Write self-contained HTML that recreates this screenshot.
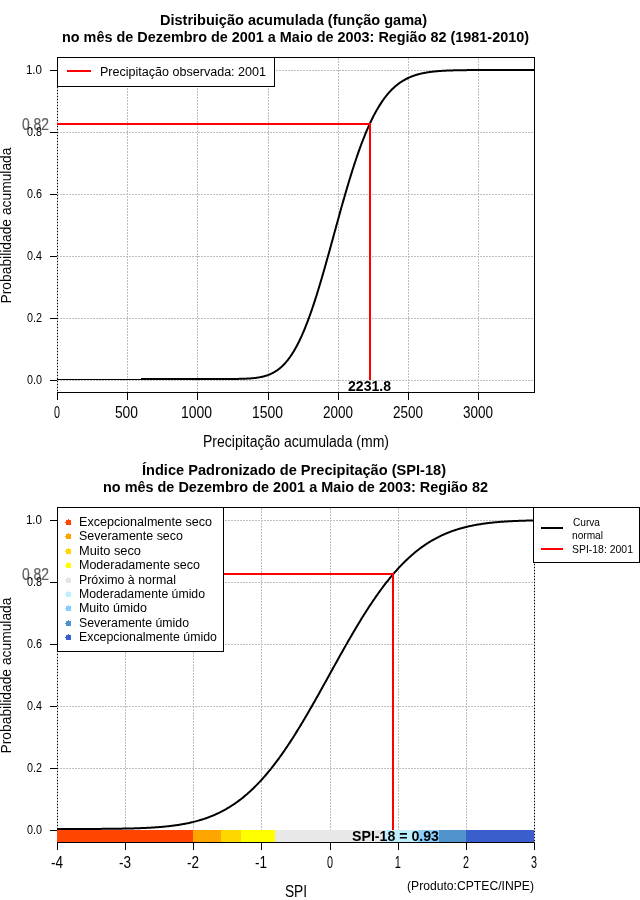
<!DOCTYPE html>
<html><head><meta charset="utf-8"><style>
html,body{margin:0;padding:0;width:640px;height:900px;overflow:hidden;background:#fff}
svg{position:absolute;left:0;top:0;will-change:transform}
svg text{font-family:"Liberation Sans", sans-serif}
</style></head><body>
<svg width="640" height="900" viewBox="0 0 640 900">
<rect width="640" height="900" fill="#fff"/>
<g shape-rendering="crispEdges" stroke-width="1">
<line x1="57.5" y1="58" x2="57.5" y2="392" stroke="#bebebe" stroke-dasharray="2 1"/>
<line x1="127.5" y1="58" x2="127.5" y2="392" stroke="#bebebe" stroke-dasharray="2 1"/>
<line x1="197.5" y1="58" x2="197.5" y2="392" stroke="#bebebe" stroke-dasharray="2 1"/>
<line x1="268.5" y1="58" x2="268.5" y2="392" stroke="#bebebe" stroke-dasharray="2 1"/>
<line x1="338.5" y1="58" x2="338.5" y2="392" stroke="#bebebe" stroke-dasharray="2 1"/>
<line x1="408.5" y1="58" x2="408.5" y2="392" stroke="#bebebe" stroke-dasharray="2 1"/>
<line x1="478.5" y1="58" x2="478.5" y2="392" stroke="#bebebe" stroke-dasharray="2 1"/>
<line x1="57" y1="70.5" x2="534" y2="70.5" stroke="#bebebe" stroke-dasharray="2 1"/>
<line x1="57" y1="132.5" x2="534" y2="132.5" stroke="#bebebe" stroke-dasharray="2 1"/>
<line x1="57" y1="194.5" x2="534" y2="194.5" stroke="#bebebe" stroke-dasharray="2 1"/>
<line x1="57" y1="256.5" x2="534" y2="256.5" stroke="#bebebe" stroke-dasharray="2 1"/>
<line x1="57" y1="318.5" x2="534" y2="318.5" stroke="#bebebe" stroke-dasharray="2 1"/>
<line x1="57" y1="380.5" x2="534" y2="380.5" stroke="#bebebe" stroke-dasharray="2 1"/>
<line x1="57.5" y1="57" x2="57.5" y2="392" stroke="#000" stroke-dasharray="1 2"/>
<line x1="534.5" y1="57" x2="534.5" y2="393" stroke="#000"/>
<line x1="57" y1="57.5" x2="535" y2="57.5" stroke="#000"/>
<line x1="57" y1="392.5" x2="535" y2="392.5" stroke="#000"/>
<line x1="57.5" y1="392" x2="57.5" y2="400" stroke="#000"/>
<line x1="127.5" y1="392" x2="127.5" y2="400" stroke="#000"/>
<line x1="197.5" y1="392" x2="197.5" y2="400" stroke="#000"/>
<line x1="268.5" y1="392" x2="268.5" y2="400" stroke="#000"/>
<line x1="338.5" y1="392" x2="338.5" y2="400" stroke="#000"/>
<line x1="408.5" y1="392" x2="408.5" y2="400" stroke="#000"/>
<line x1="478.5" y1="392" x2="478.5" y2="400" stroke="#000"/>
<line x1="50" y1="70.5" x2="57" y2="70.5" stroke="#000"/>
<line x1="50" y1="132.5" x2="57" y2="132.5" stroke="#000"/>
<line x1="50" y1="194.5" x2="57" y2="194.5" stroke="#000"/>
<line x1="50" y1="256.5" x2="57" y2="256.5" stroke="#000"/>
<line x1="50" y1="318.5" x2="57" y2="318.5" stroke="#000"/>
<line x1="50" y1="380.5" x2="57" y2="380.5" stroke="#000"/>
</g>
<line x1="57" y1="379.5" x2="141" y2="379.5" stroke="#000" stroke-width="1" shape-rendering="crispEdges"/>
<polyline fill="none" stroke="#000" stroke-width="2" points="141.00,379.00 141.49,379.00 141.98,379.00 142.48,379.00 142.97,379.00 143.46,379.00 143.95,379.00 144.44,379.00 144.93,379.00 145.43,379.00 145.92,379.00 146.41,379.00 146.90,379.00 147.39,379.00 147.89,379.00 148.38,379.00 148.87,379.00 149.36,379.00 149.85,379.00 150.35,379.00 150.84,379.00 151.33,379.00 151.82,379.00 152.31,379.00 152.80,379.00 153.30,379.00 153.79,379.00 154.28,379.00 154.77,379.00 155.26,379.00 155.76,379.00 156.25,379.00 156.74,379.00 157.23,379.00 157.72,379.00 158.22,379.00 158.71,379.00 159.20,379.00 159.69,379.00 160.18,379.00 160.67,379.00 161.17,379.00 161.66,379.00 162.15,379.00 162.64,379.00 163.13,379.00 163.63,379.00 164.12,379.00 164.61,379.00 165.10,379.00 165.59,379.00 166.09,379.00 166.58,379.00 167.07,379.00 167.56,379.00 168.05,379.00 168.54,379.00 169.04,379.00 169.53,379.00 170.02,379.00 170.51,379.00 171.00,379.00 171.50,379.00 171.99,379.00 172.48,379.00 172.97,379.00 173.46,379.00 173.95,379.00 174.45,379.00 174.94,379.00 175.43,379.00 175.92,379.00 176.41,379.00 176.91,379.00 177.40,379.00 177.89,379.00 178.38,379.00 178.87,379.00 179.37,379.00 179.86,379.00 180.35,379.00 180.84,379.00 181.33,379.00 181.82,379.00 182.32,379.00 182.81,379.00 183.30,379.00 183.79,379.00 184.28,379.00 184.78,379.00 185.27,379.00 185.76,379.00 186.25,379.00 186.74,379.00 187.24,379.00 187.73,379.00 188.22,379.00 188.71,379.00 189.20,379.00 189.69,379.00 190.19,379.00 190.68,379.00 191.17,379.00 191.66,379.00 192.15,379.00 192.65,379.00 193.14,379.00 193.63,379.00 194.12,379.00 194.61,379.00 195.11,379.00 195.60,379.00 196.09,379.00 196.58,379.00 197.07,379.00 197.56,379.00 198.06,379.00 198.55,379.00 199.04,379.00 199.53,379.00 200.02,379.00 200.52,379.00 201.01,379.00 201.50,379.00 201.99,379.00 202.48,379.00 202.97,379.00 203.47,379.00 203.96,379.00 204.45,379.00 204.94,379.00 205.43,379.00 205.93,379.00 206.42,379.00 206.91,379.00 207.40,379.00 207.89,379.00 208.39,379.00 208.88,379.00 209.37,379.00 209.86,379.00 210.35,379.00 210.84,379.00 211.34,379.00 211.83,379.00 212.32,379.00 212.81,379.00 213.30,379.00 213.80,379.00 214.29,379.00 214.78,379.00 215.27,379.00 215.76,379.00 216.26,379.00 216.75,379.00 217.24,379.00 217.73,379.00 218.22,379.00 218.71,379.00 219.21,379.00 219.70,378.99 220.19,378.99 220.68,378.99 221.17,378.99 221.67,378.99 222.16,378.99 222.65,378.99 223.14,378.99 223.63,378.99 224.13,378.99 224.62,378.99 225.11,378.99 225.60,378.98 226.09,378.98 226.58,378.98 227.08,378.98 227.57,378.98 228.06,378.98 228.55,378.97 229.04,378.97 229.54,378.97 230.03,378.97 230.52,378.96 231.01,378.96 231.50,378.96 231.99,378.95 232.49,378.95 232.98,378.95 233.47,378.94 233.96,378.94 234.45,378.93 234.95,378.93 235.44,378.92 235.93,378.92 236.42,378.91 236.91,378.90 237.41,378.90 237.90,378.89 238.39,378.88 238.88,378.87 239.37,378.86 239.86,378.85 240.36,378.84 240.85,378.83 241.34,378.82 241.83,378.80 242.32,378.79 242.82,378.77 243.31,378.76 243.80,378.74 244.29,378.72 244.78,378.71 245.28,378.69 245.77,378.67 246.26,378.64 246.75,378.62 247.24,378.59 247.73,378.57 248.23,378.54 248.72,378.51 249.21,378.48 249.70,378.45 250.19,378.41 250.69,378.38 251.18,378.34 251.67,378.30 252.16,378.26 252.65,378.21 253.15,378.17 253.64,378.12 254.13,378.06 254.62,378.01 255.11,377.95 255.60,377.89 256.10,377.83 256.59,377.76 257.08,377.69 257.57,377.62 258.06,377.55 258.56,377.47 259.05,377.38 259.54,377.30 260.03,377.21 260.52,377.11 261.02,377.01 261.51,376.91 262.00,376.80 262.49,376.69 262.98,376.57 263.47,376.44 263.97,376.32 264.46,376.18 264.95,376.04 265.44,375.90 265.93,375.75 266.43,375.59 266.92,375.43 267.41,375.26 267.90,375.08 268.39,374.90 268.88,374.71 269.38,374.51 269.87,374.31 270.36,374.10 270.85,373.88 271.34,373.65 271.84,373.41 272.33,373.17 272.82,372.91 273.31,372.65 273.80,372.38 274.30,372.10 274.79,371.81 275.28,371.51 275.77,371.20 276.26,370.88 276.75,370.55 277.25,370.21 277.74,369.86 278.23,369.50 278.72,369.13 279.21,368.74 279.71,368.35 280.20,367.94 280.69,367.52 281.18,367.09 281.67,366.64 282.17,366.19 282.66,365.71 283.15,365.23 283.64,364.73 284.13,364.22 284.62,363.70 285.12,363.16 285.61,362.61 286.10,362.05 286.59,361.47 287.08,360.87 287.58,360.26 288.07,359.64 288.56,359.00 289.05,358.34 289.54,357.67 290.04,356.98 290.53,356.28 291.02,355.56 291.51,354.83 292.00,354.08 292.49,353.31 292.99,352.53 293.48,351.73 293.97,350.91 294.46,350.08 294.95,349.23 295.45,348.37 295.94,347.48 296.43,346.58 296.92,345.66 297.41,344.73 297.90,343.78 298.40,342.81 298.89,341.82 299.38,340.82 299.87,339.79 300.36,338.76 300.86,337.70 301.35,336.63 301.84,335.54 302.33,334.43 302.82,333.30 303.32,332.16 303.81,331.00 304.30,329.82 304.79,328.63 305.28,327.42 305.77,326.19 306.27,324.94 306.76,323.68 307.25,322.40 307.74,321.11 308.23,319.80 308.73,318.47 309.22,317.13 309.71,315.77 310.20,314.40 310.69,313.01 311.19,311.60 311.68,310.18 312.17,308.75 312.66,307.29 313.15,305.83 313.64,304.35 314.14,302.86 314.63,301.35 315.12,299.83 315.61,298.30 316.10,296.75 316.60,295.19 317.09,293.62 317.58,292.03 318.07,290.44 318.56,288.83 319.06,287.21 319.55,285.58 320.04,283.94 320.53,282.29 321.02,280.63 321.51,278.96 322.01,277.28 322.50,275.59 322.99,273.89 323.48,272.18 323.97,270.47 324.47,268.74 324.96,267.01 325.45,265.28 325.94,263.54 326.43,261.79 326.92,260.03 327.42,258.27 327.91,256.51 328.40,254.74 328.89,252.96 329.38,251.18 329.88,249.40 330.37,247.62 330.86,245.83 331.35,244.04 331.84,242.25 332.34,240.46 332.83,238.66 333.32,236.87 333.81,235.07 334.30,233.28 334.79,231.48 335.29,229.69 335.78,227.89 336.27,226.10 336.76,224.31 337.25,222.52 337.75,220.74 338.24,218.95 338.73,217.18 339.22,215.40 339.71,213.63 340.21,211.86 340.70,210.10 341.19,208.34 341.68,206.59 342.17,204.84 342.66,203.10 343.16,201.37 343.65,199.64 344.14,197.93 344.63,196.21 345.12,194.51 345.62,192.81 346.11,191.12 346.60,189.44 347.09,187.77 347.58,186.11 348.08,184.46 348.57,182.81 349.06,181.18 349.55,179.56 350.04,177.94 350.53,176.34 351.03,174.75 351.52,173.17 352.01,171.60 352.50,170.05 352.99,168.50 353.49,166.97 353.98,165.44 354.47,163.93 354.96,162.44 355.45,160.95 355.94,159.48 356.44,158.02 356.93,156.58 357.42,155.14 357.91,153.73 358.40,152.32 358.90,150.93 359.39,149.55 359.88,148.18 360.37,146.83 360.86,145.50 361.36,144.18 361.85,142.87 362.34,141.57 362.83,140.29 363.32,139.03 363.81,137.78 364.31,136.54 364.80,135.32 365.29,134.11 365.78,132.92 366.27,131.74 366.77,130.58 367.26,129.43 367.75,128.29 368.24,127.17 368.73,126.07 369.23,124.98 369.72,123.90 370.21,122.84 370.70,121.80 371.19,120.76 371.68,119.75 372.18,118.74 372.67,117.76 373.16,116.78 373.65,115.82 374.14,114.88 374.64,113.94 375.13,113.03 375.62,112.12 376.11,111.23 376.60,110.36 377.10,109.50 377.59,108.65 378.08,107.82 378.57,107.00 379.06,106.19 379.55,105.40 380.05,104.62 380.54,103.85 381.03,103.09 381.52,102.35 382.01,101.62 382.51,100.91 383.00,100.21 383.49,99.52 383.98,98.84 384.47,98.17 384.96,97.52 385.46,96.88 385.95,96.25 386.44,95.63 386.93,95.02 387.42,94.43 387.92,93.84 388.41,93.27 388.90,92.71 389.39,92.16 389.88,91.62 390.38,91.09 390.87,90.57 391.36,90.07 391.85,89.57 392.34,89.08 392.83,88.60 393.33,88.14 393.82,87.68 394.31,87.23 394.80,86.79 395.29,86.36 395.79,85.94 396.28,85.53 396.77,85.13 397.26,84.73 397.75,84.35 398.25,83.97 398.74,83.60 399.23,83.24 399.72,82.89 400.21,82.55 400.70,82.21 401.20,81.88 401.69,81.56 402.18,81.25 402.67,80.94 403.16,80.64 403.66,80.35 404.15,80.07 404.64,79.79 405.13,79.52 405.62,79.25 406.12,78.99 406.61,78.74 407.10,78.49 407.59,78.25 408.08,78.02 408.57,77.79 409.07,77.57 409.56,77.35 410.05,77.14 410.54,76.93 411.03,76.73 411.53,76.53 412.02,76.34 412.51,76.16 413.00,75.98 413.49,75.80 413.98,75.63 414.48,75.46 414.97,75.30 415.46,75.14 415.95,74.98 416.44,74.83 416.94,74.69 417.43,74.54 417.92,74.41 418.41,74.27 418.90,74.14 419.40,74.01 419.89,73.89 420.38,73.77 420.87,73.65 421.36,73.54 421.85,73.43 422.35,73.32 422.84,73.22 423.33,73.11 423.82,73.01 424.31,72.92 424.81,72.83 425.30,72.74 425.79,72.65 426.28,72.56 426.77,72.48 427.27,72.40 427.76,72.32 428.25,72.25 428.74,72.17 429.23,72.10 429.72,72.03 430.22,71.97 430.71,71.90 431.20,71.84 431.69,71.78 432.18,71.72 432.68,71.66 433.17,71.60 433.66,71.55 434.15,71.50 434.64,71.45 435.14,71.40 435.63,71.35 436.12,71.30 436.61,71.26 437.10,71.22 437.59,71.18 438.09,71.13 438.58,71.10 439.07,71.06 439.56,71.02 440.05,70.99 440.55,70.95 441.04,70.92 441.53,70.89 442.02,70.85 442.51,70.82 443.01,70.79 443.50,70.77 443.99,70.74 444.48,70.71 444.97,70.69 445.46,70.66 445.96,70.64 446.45,70.62 446.94,70.59 447.43,70.57 447.92,70.55 448.42,70.53 448.91,70.51 449.40,70.49 449.89,70.48 450.38,70.46 450.87,70.44 451.37,70.42 451.86,70.41 452.35,70.39 452.84,70.38 453.33,70.36 453.83,70.35 454.32,70.34 454.81,70.33 455.30,70.31 455.79,70.30 456.29,70.29 456.78,70.28 457.27,70.27 457.76,70.26 458.25,70.25 458.74,70.24 459.24,70.23 459.73,70.22 460.22,70.21 460.71,70.20 461.20,70.20 461.70,70.19 462.19,70.18 462.68,70.17 463.17,70.17 463.66,70.16 464.16,70.15 464.65,70.15 465.14,70.14 465.63,70.14 466.12,70.13 466.61,70.13 467.11,70.12 467.60,70.12 468.09,70.11 468.58,70.11 469.07,70.10 469.57,70.10 470.06,70.10 470.55,70.09 471.04,70.09 471.53,70.08 472.03,70.08 472.52,70.08 473.01,70.07 473.50,70.07 473.99,70.07 474.48,70.07 474.98,70.06 475.47,70.06 475.96,70.06 476.45,70.06 476.94,70.05 477.44,70.05 477.93,70.05 478.42,70.05 478.91,70.04 479.40,70.04 479.89,70.04 480.39,70.04 480.88,70.04 481.37,70.04 481.86,70.03 482.35,70.03 482.85,70.03 483.34,70.03 483.83,70.03 484.32,70.03 484.81,70.03 485.31,70.03 485.80,70.02 486.29,70.02 486.78,70.02 487.27,70.02 487.76,70.02 488.26,70.02 488.75,70.02 489.24,70.02 489.73,70.02 490.22,70.02 490.72,70.02 491.21,70.02 491.70,70.01 492.19,70.01 492.68,70.01 493.18,70.01 493.67,70.01 494.16,70.01 494.65,70.01 495.14,70.01 495.63,70.01 496.13,70.01 496.62,70.01 497.11,70.01 497.60,70.01 498.09,70.01 498.59,70.01 499.08,70.01 499.57,70.01 500.06,70.01 500.55,70.01 501.05,70.01 501.54,70.01 502.03,70.01 502.52,70.01 503.01,70.01 503.50,70.00 504.00,70.00 504.49,70.00 504.98,70.00 505.47,70.00 505.96,70.00 506.46,70.00 506.95,70.00 507.44,70.00 507.93,70.00 508.42,70.00 508.91,70.00 509.41,70.00 509.90,70.00 510.39,70.00 510.88,70.00 511.37,70.00 511.87,70.00 512.36,70.00 512.85,70.00 513.34,70.00 513.83,70.00 514.33,70.00 514.82,70.00 515.31,70.00 515.80,70.00 516.29,70.00 516.78,70.00 517.28,70.00 517.77,70.00 518.26,70.00 518.75,70.00 519.24,70.00 519.74,70.00 520.23,70.00 520.72,70.00 521.21,70.00 521.70,70.00 522.20,70.00 522.69,70.00 523.18,70.00 523.67,70.00 524.16,70.00 524.65,70.00 525.15,70.00 525.64,70.00 526.13,70.00 526.62,70.00 527.11,70.00 527.61,70.00 528.10,70.00 528.59,70.00 529.08,70.00 529.57,70.00 530.07,70.00 530.56,70.00 531.05,70.00 531.54,70.00 532.03,70.00 532.52,70.00 533.02,70.00 533.51,70.00 534.00,70.00"/>
<g shape-rendering="crispEdges">
<rect x="57" y="123" width="314" height="2" fill="#f00"/>
<rect x="369" y="123" width="2" height="257" fill="#f00"/>
<rect x="57.5" y="57.5" width="217" height="29" fill="#fff" stroke="#000"/>
<rect x="67" y="70" width="24" height="2" fill="#f00"/>
</g>
<text x="0" y="0" font-size="14" text-anchor="middle" transform="translate(11,225.5) rotate(-90)" textLength="156" lengthAdjust="spacingAndGlyphs">Probabilidade acumulada</text>
<g shape-rendering="crispEdges" stroke-width="1">
<line x1="57.5" y1="508" x2="57.5" y2="842" stroke="#bebebe" stroke-dasharray="2 1"/>
<line x1="125.5" y1="508" x2="125.5" y2="842" stroke="#bebebe" stroke-dasharray="2 1"/>
<line x1="193.5" y1="508" x2="193.5" y2="842" stroke="#bebebe" stroke-dasharray="2 1"/>
<line x1="261.5" y1="508" x2="261.5" y2="842" stroke="#bebebe" stroke-dasharray="2 1"/>
<line x1="330.5" y1="508" x2="330.5" y2="842" stroke="#bebebe" stroke-dasharray="2 1"/>
<line x1="398.5" y1="508" x2="398.5" y2="842" stroke="#bebebe" stroke-dasharray="2 1"/>
<line x1="466.5" y1="508" x2="466.5" y2="842" stroke="#bebebe" stroke-dasharray="2 1"/>
<line x1="534.5" y1="508" x2="534.5" y2="842" stroke="#bebebe" stroke-dasharray="2 1"/>
<line x1="57" y1="520.5" x2="534" y2="520.5" stroke="#bebebe" stroke-dasharray="2 1"/>
<line x1="57" y1="582.5" x2="534" y2="582.5" stroke="#bebebe" stroke-dasharray="2 1"/>
<line x1="57" y1="644.5" x2="534" y2="644.5" stroke="#bebebe" stroke-dasharray="2 1"/>
<line x1="57" y1="706.5" x2="534" y2="706.5" stroke="#bebebe" stroke-dasharray="2 1"/>
<line x1="57" y1="768.5" x2="534" y2="768.5" stroke="#bebebe" stroke-dasharray="2 1"/>
<line x1="57" y1="830.5" x2="534" y2="830.5" stroke="#bebebe" stroke-dasharray="2 1"/>
<line x1="57.5" y1="507" x2="57.5" y2="842" stroke="#000" stroke-dasharray="1 2"/>
<line x1="534.5" y1="507" x2="534.5" y2="842" stroke="#000" stroke-dasharray="1 2"/>
<line x1="57" y1="507.5" x2="535" y2="507.5" stroke="#000"/>
<line x1="57" y1="842.5" x2="535" y2="842.5" stroke="#000"/>
<line x1="57.5" y1="842" x2="57.5" y2="850" stroke="#000"/>
<line x1="125.5" y1="842" x2="125.5" y2="850" stroke="#000"/>
<line x1="193.5" y1="842" x2="193.5" y2="850" stroke="#000"/>
<line x1="261.5" y1="842" x2="261.5" y2="850" stroke="#000"/>
<line x1="330.5" y1="842" x2="330.5" y2="850" stroke="#000"/>
<line x1="398.5" y1="842" x2="398.5" y2="850" stroke="#000"/>
<line x1="466.5" y1="842" x2="466.5" y2="850" stroke="#000"/>
<line x1="534.5" y1="842" x2="534.5" y2="850" stroke="#000"/>
<line x1="50" y1="520.5" x2="57" y2="520.5" stroke="#000"/>
<line x1="50" y1="582.5" x2="57" y2="582.5" stroke="#000"/>
<line x1="50" y1="644.5" x2="57" y2="644.5" stroke="#000"/>
<line x1="50" y1="706.5" x2="57" y2="706.5" stroke="#000"/>
<line x1="50" y1="768.5" x2="57" y2="768.5" stroke="#000"/>
<line x1="50" y1="830.5" x2="57" y2="830.5" stroke="#000"/>
</g>
<g shape-rendering="crispEdges">
<rect x="57" y="830" width="136" height="12" fill="#ff4500"/>
<rect x="193" y="830" width="28" height="12" fill="#ffa500"/>
<rect x="221" y="830" width="20" height="12" fill="#ffd700"/>
<rect x="241" y="830" width="34" height="12" fill="#ffff00"/>
<rect x="275" y="830" width="109" height="12" fill="#e8e8e8"/>
<rect x="384" y="830" width="34" height="12" fill="#bfefff"/>
<rect x="418" y="830" width="21" height="12" fill="#87cefa"/>
<rect x="439" y="830" width="27" height="12" fill="#4f94cd"/>
<rect x="466" y="830" width="68" height="12" fill="#3a5fcd"/>
</g>
<polyline fill="none" stroke="#000" stroke-width="2" points="57.00,828.99 57.96,828.99 58.91,828.99 59.87,828.99 60.82,828.99 61.78,828.99 62.74,828.99 63.69,828.99 64.65,828.98 65.60,828.98 66.56,828.98 67.51,828.98 68.47,828.98 69.43,828.98 70.38,828.98 71.34,828.98 72.29,828.98 73.25,828.97 74.21,828.97 75.16,828.97 76.12,828.97 77.07,828.97 78.03,828.97 78.99,828.96 79.94,828.96 80.90,828.96 81.85,828.96 82.81,828.95 83.76,828.95 84.72,828.95 85.68,828.95 86.63,828.94 87.59,828.94 88.54,828.94 89.50,828.93 90.46,828.93 91.41,828.93 92.37,828.92 93.32,828.92 94.28,828.91 95.23,828.91 96.19,828.90 97.15,828.90 98.10,828.89 99.06,828.89 100.01,828.88 100.97,828.88 101.93,828.87 102.88,828.86 103.84,828.86 104.79,828.85 105.75,828.84 106.71,828.83 107.66,828.83 108.62,828.82 109.57,828.81 110.53,828.80 111.48,828.79 112.44,828.78 113.40,828.77 114.35,828.75 115.31,828.74 116.26,828.73 117.22,828.72 118.18,828.70 119.13,828.69 120.09,828.67 121.04,828.66 122.00,828.64 122.96,828.62 123.91,828.61 124.87,828.59 125.82,828.57 126.78,828.55 127.73,828.53 128.69,828.51 129.65,828.48 130.60,828.46 131.56,828.43 132.51,828.41 133.47,828.38 134.43,828.35 135.38,828.32 136.34,828.29 137.29,828.26 138.25,828.23 139.20,828.19 140.16,828.16 141.12,828.12 142.07,828.08 143.03,828.04 143.98,828.00 144.94,827.96 145.90,827.91 146.85,827.87 147.81,827.82 148.76,827.77 149.72,827.72 150.68,827.66 151.63,827.61 152.59,827.55 153.54,827.49 154.50,827.42 155.45,827.36 156.41,827.29 157.37,827.22 158.32,827.15 159.28,827.08 160.23,827.00 161.19,826.92 162.15,826.83 163.10,826.75 164.06,826.66 165.01,826.57 165.97,826.47 166.93,826.37 167.88,826.27 168.84,826.17 169.79,826.06 170.75,825.95 171.70,825.83 172.66,825.71 173.62,825.58 174.57,825.46 175.53,825.32 176.48,825.19 177.44,825.05 178.40,824.90 179.35,824.75 180.31,824.60 181.26,824.44 182.22,824.27 183.18,824.10 184.13,823.93 185.09,823.75 186.04,823.56 187.00,823.37 187.95,823.18 188.91,822.97 189.87,822.77 190.82,822.55 191.78,822.33 192.73,822.10 193.69,821.87 194.65,821.63 195.60,821.38 196.56,821.13 197.51,820.87 198.47,820.60 199.42,820.32 200.38,820.04 201.34,819.75 202.29,819.45 203.25,819.15 204.20,818.83 205.16,818.51 206.12,818.18 207.07,817.84 208.03,817.49 208.98,817.13 209.94,816.77 210.90,816.39 211.85,816.01 212.81,815.62 213.76,815.21 214.72,814.80 215.67,814.38 216.63,813.94 217.59,813.50 218.54,813.05 219.50,812.58 220.45,812.11 221.41,811.62 222.37,811.13 223.32,810.62 224.28,810.10 225.23,809.57 226.19,809.03 227.15,808.48 228.10,807.91 229.06,807.34 230.01,806.75 230.97,806.15 231.92,805.53 232.88,804.91 233.84,804.27 234.79,803.62 235.75,802.95 236.70,802.28 237.66,801.59 238.62,800.88 239.57,800.17 240.53,799.44 241.48,798.69 242.44,797.94 243.39,797.17 244.35,796.38 245.31,795.58 246.26,794.77 247.22,793.95 248.17,793.11 249.13,792.25 250.09,791.38 251.04,790.50 252.00,789.60 252.95,788.69 253.91,787.76 254.87,786.82 255.82,785.87 256.78,784.90 257.73,783.91 258.69,782.91 259.64,781.90 260.60,780.87 261.56,779.83 262.51,778.77 263.47,777.69 264.42,776.61 265.38,775.50 266.34,774.39 267.29,773.26 268.25,772.11 269.20,770.95 270.16,769.77 271.12,768.58 272.07,767.38 273.03,766.16 273.98,764.93 274.94,763.68 275.89,762.42 276.85,761.14 277.81,759.85 278.76,758.55 279.72,757.24 280.67,755.91 281.63,754.56 282.59,753.20 283.54,751.83 284.50,750.45 285.45,749.06 286.41,747.65 287.37,746.23 288.32,744.79 289.28,743.35 290.23,741.89 291.19,740.42 292.14,738.94 293.10,737.44 294.06,735.94 295.01,734.42 295.97,732.90 296.92,731.36 297.88,729.81 298.84,728.26 299.79,726.69 300.75,725.11 301.70,723.53 302.66,721.93 303.61,720.33 304.57,718.72 305.53,717.09 306.48,715.47 307.44,713.83 308.39,712.18 309.35,710.53 310.31,708.87 311.26,707.21 312.22,705.54 313.17,703.86 314.13,702.18 315.09,700.49 316.04,698.80 317.00,697.10 317.95,695.40 318.91,693.69 319.86,691.98 320.82,690.27 321.78,688.55 322.73,686.83 323.69,685.11 324.64,683.39 325.60,681.66 326.56,679.93 327.51,678.21 328.47,676.48 329.42,674.75 330.38,673.02 331.34,671.29 332.29,669.56 333.25,667.83 334.20,666.11 335.16,664.38 336.11,662.66 337.07,660.94 338.03,659.22 338.98,657.51 339.94,655.80 340.89,654.09 341.85,652.39 342.81,650.69 343.76,648.99 344.72,647.30 345.67,645.62 346.63,643.94 347.59,642.27 348.54,640.60 349.50,638.94 350.45,637.29 351.41,635.64 352.36,634.00 353.32,632.37 354.28,630.75 355.23,629.13 356.19,627.53 357.14,625.93 358.10,624.34 359.06,622.76 360.01,621.19 360.97,619.63 361.92,618.08 362.88,616.54 363.83,615.01 364.79,613.49 365.75,611.99 366.70,610.49 367.66,609.00 368.61,607.53 369.57,606.07 370.53,604.62 371.48,603.18 372.44,601.76 373.39,600.35 374.35,598.95 375.31,597.56 376.26,596.19 377.22,594.82 378.17,593.48 379.13,592.14 380.08,590.82 381.04,589.52 382.00,588.22 382.95,586.94 383.91,585.68 384.86,584.43 385.82,583.19 386.78,581.97 387.73,580.76 388.69,579.57 389.64,578.39 390.60,577.22 391.56,576.07 392.51,574.93 393.47,573.81 394.42,572.71 395.38,571.62 396.33,570.54 397.29,569.48 398.25,568.43 399.20,567.39 400.16,566.38 401.11,565.37 402.07,564.38 403.03,563.41 403.98,562.45 404.94,561.50 405.89,560.57 406.85,559.66 407.80,558.76 408.76,557.87 409.72,557.00 410.67,556.14 411.63,555.29 412.58,554.46 413.54,553.65 414.50,552.84 415.45,552.06 416.41,551.28 417.36,550.52 418.32,549.77 419.28,549.04 420.23,548.32 421.19,547.61 422.14,546.92 423.10,546.24 424.05,545.57 425.01,544.92 425.97,544.27 426.92,543.65 427.88,543.03 428.83,542.42 429.79,541.83 430.75,541.25 431.70,540.68 432.66,540.13 433.61,539.58 434.57,539.05 435.53,538.53 436.48,538.02 437.44,537.52 438.39,537.03 439.35,536.55 440.30,536.08 441.26,535.63 442.22,535.18 443.17,534.75 444.13,534.32 445.08,533.91 446.04,533.50 447.00,533.10 447.95,532.72 448.91,532.34 449.86,531.97 450.82,531.61 451.78,531.26 452.73,530.92 453.69,530.58 454.64,530.26 455.60,529.94 456.55,529.63 457.51,529.33 458.47,529.04 459.42,528.76 460.38,528.48 461.33,528.21 462.29,527.95 463.25,527.69 464.20,527.44 465.16,527.20 466.11,526.96 467.07,526.73 468.02,526.51 468.98,526.30 469.94,526.09 470.89,525.88 471.85,525.68 472.80,525.49 473.76,525.30 474.72,525.12 475.67,524.95 476.63,524.77 477.58,524.61 478.54,524.45 479.50,524.29 480.45,524.14 481.41,523.99 482.36,523.85 483.32,523.71 484.27,523.58 485.23,523.45 486.19,523.33 487.14,523.20 488.10,523.09 489.05,522.97 490.01,522.86 490.97,522.76 491.92,522.65 492.88,522.56 493.83,522.46 494.79,522.37 495.75,522.28 496.70,522.19 497.66,522.11 498.61,522.02 499.57,521.95 500.52,521.87 501.48,521.80 502.44,521.73 503.39,521.66 504.35,521.59 505.30,521.53 506.26,521.47 507.22,521.41 508.17,521.35 509.13,521.30 510.08,521.25 511.04,521.20 511.99,521.15 512.95,521.10 513.91,521.05 514.86,521.01 515.82,520.97 516.77,520.93 517.73,520.89 518.69,520.85 519.64,520.82 520.60,520.78 521.55,520.75 522.51,520.72 523.47,520.68 524.42,520.66 525.38,520.63 526.33,520.60 527.29,520.57 528.24,520.55 529.20,520.52 530.16,520.50 531.11,520.48 532.07,520.46 533.02,520.44 533.98,520.42"/>
<g shape-rendering="crispEdges">
<rect x="57" y="573" width="337" height="2" fill="#f00"/>
<rect x="392" y="573" width="2" height="257" fill="#f00"/>
<rect x="57.5" y="507.5" width="166" height="144" fill="#fff" stroke="#000"/>
<path d="M66 520h5v5h-5z M68 519h1v1h-1z M65 522h1v1h-1z" fill="#ff4500"/>
<path d="M66 534h5v5h-5z M68 533h1v1h-1z M65 536h1v1h-1z" fill="#ffa500"/>
<path d="M66 549h5v5h-5z M68 548h1v1h-1z M65 551h1v1h-1z" fill="#ffd700"/>
<path d="M66 563h5v5h-5z M68 562h1v1h-1z M65 565h1v1h-1z" fill="#ffff00"/>
<path d="M66 578h5v5h-5z M68 577h1v1h-1z M65 580h1v1h-1z" fill="#e5e5e5"/>
<path d="M66 592h5v5h-5z M68 591h1v1h-1z M65 594h1v1h-1z" fill="#bfefff"/>
<path d="M66 606h5v5h-5z M68 605h1v1h-1z M65 608h1v1h-1z" fill="#87cefa"/>
<path d="M66 621h5v5h-5z M68 620h1v1h-1z M65 623h1v1h-1z" fill="#4f94cd"/>
<path d="M66 635h5v5h-5z M68 634h1v1h-1z M65 637h1v1h-1z" fill="#3a5fcd"/>
<rect x="533.5" y="507.5" width="106" height="55" fill="#fff" stroke="#000"/>
<rect x="541" y="527" width="22" height="2" fill="#000"/>
<rect x="541" y="548" width="22" height="2" fill="#f00"/>
</g>
<text x="0" y="0" font-size="14" text-anchor="middle" transform="translate(11,675.5) rotate(-90)" textLength="156" lengthAdjust="spacingAndGlyphs">Probabilidade acumulada</text>
<text class="ft" x="22.00" y="130" font-size="16" fill="#5f5f5f" stroke="#5f5f5f" stroke-width="0.2" textLength="27.00" lengthAdjust="spacingAndGlyphs">0.82</text>
<text class="ft" x="22.00" y="580" font-size="16" fill="#5f5f5f" stroke="#5f5f5f" stroke-width="0.2" textLength="27.00" lengthAdjust="spacingAndGlyphs">0.82</text>
<text class="ft" x="54.00" y="418" font-size="16" textLength="6.00" lengthAdjust="spacingAndGlyphs">0</text>
<text class="ft" x="114.95" y="418" font-size="16" textLength="23.05" lengthAdjust="spacingAndGlyphs">500</text>
<text class="ft" x="180.97" y="418" font-size="16" textLength="31.03" lengthAdjust="spacingAndGlyphs">1000</text>
<text class="ft" x="251.97" y="418" font-size="16" textLength="31.03" lengthAdjust="spacingAndGlyphs">1500</text>
<text class="ft" x="323.00" y="418" font-size="16" textLength="30.00" lengthAdjust="spacingAndGlyphs">2000</text>
<text class="ft" x="393.00" y="418" font-size="16" textLength="30.00" lengthAdjust="spacingAndGlyphs">2500</text>
<text class="ft" x="463.00" y="418" font-size="16" textLength="30.00" lengthAdjust="spacingAndGlyphs">3000</text>
<text class="ft" x="25.93" y="74" font-size="12.5" textLength="16.07" lengthAdjust="spacingAndGlyphs">1.0</text>
<text class="ft" x="27.00" y="136" font-size="12.5" textLength="15.00" lengthAdjust="spacingAndGlyphs">0.8</text>
<text class="ft" x="27.00" y="198" font-size="12.5" textLength="15.00" lengthAdjust="spacingAndGlyphs">0.6</text>
<text class="ft" x="27.00" y="260" font-size="12.5" textLength="15.00" lengthAdjust="spacingAndGlyphs">0.4</text>
<text class="ft" x="27.00" y="322" font-size="12.5" textLength="15.00" lengthAdjust="spacingAndGlyphs">0.2</text>
<text class="ft" x="27.00" y="384" font-size="12.5" textLength="15.00" lengthAdjust="spacingAndGlyphs">0.0</text>
<text class="ft" x="51.00" y="868" font-size="16" textLength="12.00" lengthAdjust="spacingAndGlyphs">-4</text>
<text class="ft" x="119.00" y="868" font-size="16" textLength="12.00" lengthAdjust="spacingAndGlyphs">-3</text>
<text class="ft" x="187.00" y="868" font-size="16" textLength="12.00" lengthAdjust="spacingAndGlyphs">-2</text>
<text class="ft" x="255.00" y="868" font-size="16" textLength="12.00" lengthAdjust="spacingAndGlyphs">-1</text>
<text class="ft" x="327.00" y="868" font-size="16" textLength="6.00" lengthAdjust="spacingAndGlyphs">0</text>
<text class="ft" x="394.83" y="868" font-size="16" textLength="6.17" lengthAdjust="spacingAndGlyphs">1</text>
<text class="ft" x="463.00" y="868" font-size="16" textLength="6.00" lengthAdjust="spacingAndGlyphs">2</text>
<text class="ft" x="531.00" y="868" font-size="16" textLength="6.00" lengthAdjust="spacingAndGlyphs">3</text>
<text class="ft" x="25.93" y="524" font-size="12.5" textLength="16.07" lengthAdjust="spacingAndGlyphs">1.0</text>
<text class="ft" x="27.00" y="586" font-size="12.5" textLength="15.00" lengthAdjust="spacingAndGlyphs">0.8</text>
<text class="ft" x="27.00" y="648" font-size="12.5" textLength="15.00" lengthAdjust="spacingAndGlyphs">0.6</text>
<text class="ft" x="27.00" y="710" font-size="12.5" textLength="15.00" lengthAdjust="spacingAndGlyphs">0.4</text>
<text class="ft" x="27.00" y="772" font-size="12.5" textLength="15.00" lengthAdjust="spacingAndGlyphs">0.2</text>
<text class="ft" x="27.00" y="834" font-size="12.5" textLength="15.00" lengthAdjust="spacingAndGlyphs">0.0</text>
<text class="ft" x="160.00" y="25" font-size="15" font-weight="bold" textLength="267.00" lengthAdjust="spacingAndGlyphs">Distribuição acumulada (função gama)</text>
<text class="ft" x="62.00" y="42" font-size="15" font-weight="bold" textLength="467.00" lengthAdjust="spacingAndGlyphs">no mês de Dezembro de 2001 a Maio de 2003: Região 82 (1981-2010)</text>
<text class="ft" x="202.99" y="447" font-size="16" textLength="186.02" lengthAdjust="spacingAndGlyphs">Precipitação acumulada (mm)</text>
<text class="ft" x="99.99" y="76" font-size="12.5" textLength="166.01" lengthAdjust="spacingAndGlyphs">Precipitação observada: 2001</text>
<text class="ft" x="348.00" y="391" font-size="15.5" font-weight="bold" textLength="43.00" lengthAdjust="spacingAndGlyphs">2231.8</text>
<text class="ft" x="142.00" y="475" font-size="15" font-weight="bold" textLength="304.00" lengthAdjust="spacingAndGlyphs">Índice Padronizado de Precipitação (SPI-18)</text>
<text class="ft" x="103.00" y="492" font-size="15" font-weight="bold" textLength="385.00" lengthAdjust="spacingAndGlyphs">no mês de Dezembro de 2001 a Maio de 2003: Região 82</text>
<text class="ft" x="284.95" y="897" font-size="16" textLength="22.16" lengthAdjust="spacingAndGlyphs">SPI</text>
<text class="ft" x="78.99" y="526" font-size="12.5" textLength="133.01" lengthAdjust="spacingAndGlyphs">Excepcionalmente seco</text>
<text class="ft" x="78.99" y="540" font-size="12.5" textLength="104.01" lengthAdjust="spacingAndGlyphs">Severamente seco</text>
<text class="ft" x="78.98" y="555" font-size="12.5" textLength="62.02" lengthAdjust="spacingAndGlyphs">Muito seco</text>
<text class="ft" x="78.99" y="569" font-size="12.5" textLength="121.01" lengthAdjust="spacingAndGlyphs">Moderadamente seco</text>
<text class="ft" x="78.98" y="584" font-size="12.5" textLength="97.04" lengthAdjust="spacingAndGlyphs">Próximo à normal</text>
<text class="ft" x="78.99" y="598" font-size="12.5" textLength="126.01" lengthAdjust="spacingAndGlyphs">Moderadamente úmido</text>
<text class="ft" x="78.98" y="612" font-size="12.5" textLength="68.02" lengthAdjust="spacingAndGlyphs">Muito úmido</text>
<text class="ft" x="78.99" y="627" font-size="12.5" textLength="110.01" lengthAdjust="spacingAndGlyphs">Severamente úmido</text>
<text class="ft" x="78.99" y="641" font-size="12.5" textLength="138.01" lengthAdjust="spacingAndGlyphs">Excepcionalmente úmido</text>
<text class="ft" x="573.00" y="526" font-size="11" textLength="27.00" lengthAdjust="spacingAndGlyphs">Curva</text>
<text class="ft" x="572.00" y="539" font-size="11" textLength="31.00" lengthAdjust="spacingAndGlyphs">normal</text>
<text class="ft" x="571.98" y="553" font-size="11" textLength="61.02" lengthAdjust="spacingAndGlyphs">SPI-18: 2001</text>
<text class="ft" x="352.00" y="841" font-size="15.5" font-weight="bold" textLength="87.00" lengthAdjust="spacingAndGlyphs">SPI-18 = 0.93</text>
<text class="ft" x="406.98" y="890" font-size="12.5" textLength="127.03" lengthAdjust="spacingAndGlyphs">(Produto:CPTEC/INPE)</text>
</svg>
</body></html>
